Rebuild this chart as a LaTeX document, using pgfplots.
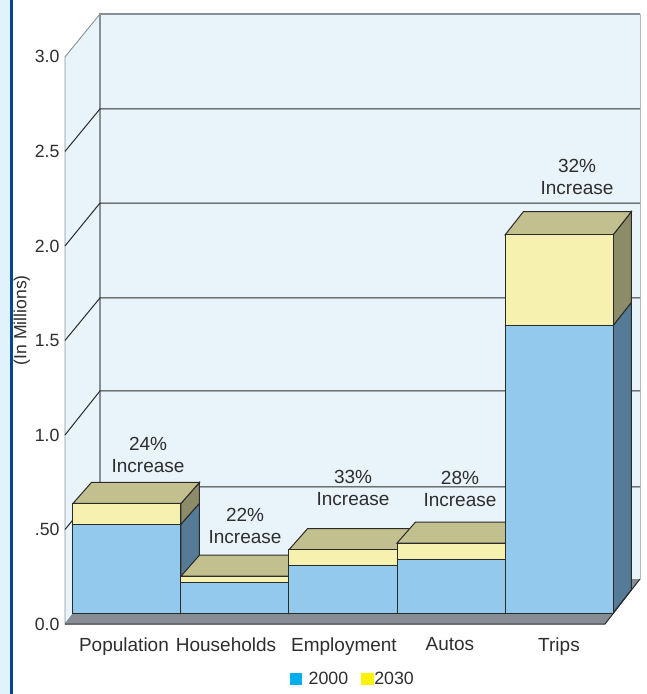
\documentclass[border=0pt]{standalone}
\usepackage{fontspec}
\setmainfont{Liberation Sans}
\usepackage{pgfplots}
\pgfplotsset{compat=1.18}
\definecolor{wall}{HTML}{E8F4FA}
\definecolor{strip}{HTML}{E0F2FB}
\definecolor{wallline}{HTML}{8A8F95}
\definecolor{gridline}{HTML}{2A2A2A}
\definecolor{floorc}{HTML}{868D94}
\definecolor{blue00}{HTML}{92C9EC}
\definecolor{blueside}{HTML}{557B97}
\definecolor{yell30}{HTML}{F6F1AE}
\definecolor{yellside}{HTML}{8C8C68}
\definecolor{topc}{HTML}{C2C08F}
\definecolor{txt}{HTML}{2E2E2E}
\begin{document}
\begin{tikzpicture}[x=1pt,y=1pt]
  \path (0,0) rectangle (647,694);
  % left strip
  \fill[fill=strip] (0,0) rectangle (10,694);
  \fill[fill={rgb,255:red,0;green,75;blue,135}] (10,0) rectangle (12.7,694);
  \begin{axis}[
    at={(65pt,70pt)}, anchor=south west,
    scale only axis, width=575pt, height=610pt,
    xmin=-0.574, xmax=4.75, ymin=-0.058, ymax=3.169,
    clip=false,
    axis line style={draw=none},
    tick style={draw=none},
    xtick={-0.028,0.917,2.009,2.99,4},
    xticklabels={Population,Households,Employment,Autos,Trips},
    ytick={-0.058,0.442,0.942,1.442,1.942,2.442,2.942},
    yticklabels={0.0,.50,1.0,1.5,2.0,2.5,3.0},
    tick label style={text=txt},
    xticklabel style={font=\fontsize{19}{22}\selectfont, yshift=-10pt},
    yticklabel style={font=\fontsize{17.7}{20}\selectfont, xshift=-2pt},
    ylabel={(In Millions)},
    every axis y label/.style={at={(rel axis cs:-0.075,0.498)}, rotate=90, anchor=center,
      font=\fontsize{17.6}{20}\selectfont, text=txt},
    legend style={at={(0.5005,-0.09)}, anchor=center, draw=none, fill=none,
      font=\fontsize{17.8}{20}\selectfont, text=txt, legend columns=2,
      /tikz/every even column/.append style={column sep=11pt}},
    legend image code/.code={\fill[#1,draw=none] (0pt,-6.2pt) rectangle (12.5pt,6.2pt);},
  ]
  \addlegendimage{fill={rgb,255:red,0;green,174;blue,239}}
  \addlegendentry{\hspace{4.5pt}2000}
  \addlegendimage{fill={rgb,255:red,255;green,242;blue,0}}
  \addlegendentry{\hspace{-1.5pt}2030}

  % walls
  \addplot[forget plot, fill=wall, draw=wallline, line width=0.9pt] coordinates {(-0.574,-0.058) (-0.574,2.942) (-0.25,3.169) (-0.25,0.18)} --cycle;
  \addplot[forget plot, fill=wall, draw=none] coordinates {(-0.25,0.18) (-0.25,3.169) (4.75,3.169) (4.75,0.18)} --cycle;
  \addplot[forget plot, draw=wallline, line width=1.2pt] coordinates {(-0.25,0.18) (-0.25,3.169) (4.75,3.169)};
  \addplot[forget plot, draw=wallline!60, line width=0.9pt] coordinates {(4.75,3.169) (4.75,0.18)};

  % grid on side and back wall
  \addplot[forget plot, draw=gridline, line width=1pt] coordinates {(-0.574,2.442) (-0.25,2.667) (4.75,2.667)};
  \addplot[forget plot, draw=gridline, line width=1pt] coordinates {(-0.574,1.942) (-0.25,2.169) (4.75,2.169)};
  \addplot[forget plot, draw=gridline, line width=1pt] coordinates {(-0.574,1.442) (-0.25,1.667) (4.75,1.667)};
  \addplot[forget plot, draw=gridline, line width=1pt] coordinates {(-0.574,0.942) (-0.25,1.175) (4.75,1.175)};
  \addplot[forget plot, draw=gridline, line width=1pt] coordinates {(-0.574,0.442) (-0.25,0.667) (4.75,0.667)};

  % floor
  \addplot[forget plot, fill=floorc, draw=none] coordinates {(-0.574,-0.058) (4.426,-0.058) (4.75,0.18) (-0.25,0.18)} --cycle;
  \addplot[forget plot, draw=gridline, line width=1pt] coordinates {(-0.574,-0.058) (4.426,-0.058) (4.75,0.18)};

  % Population sides and top
  \addplot[forget plot, fill=blueside, draw=gridline, line width=1pt] coordinates {(0.5,0) (0.5,0.47) (0.671,0.581) (0.671,0.111)} --cycle;
  \addplot[forget plot, fill=yellside, draw=gridline, line width=1pt] coordinates {(0.5,0.47) (0.5,0.58) (0.671,0.691) (0.671,0.581)} --cycle;
  \addplot[forget plot, fill=topc, draw=gridline, line width=1pt] coordinates {(-0.5,0.58) (0.5,0.58) (0.671,0.691) (-0.329,0.691)} --cycle;
  % Households
  \addplot[forget plot, fill=blueside, draw=gridline, line width=1pt] coordinates {(1.5,0) (1.5,0.16) (1.671,0.271) (1.671,0.111)} --cycle;
  \addplot[forget plot, fill=yellside, draw=gridline, line width=1pt] coordinates {(1.5,0.16) (1.5,0.195) (1.671,0.306) (1.671,0.271)} --cycle;
  \addplot[forget plot, fill=topc, draw=gridline, line width=1pt] coordinates {(0.5,0.195) (1.5,0.195) (1.671,0.306) (0.671,0.306)} --cycle;
  % Employment
  \addplot[forget plot, fill=blueside, draw=gridline, line width=1pt] coordinates {(2.5,0) (2.5,0.25) (2.671,0.361) (2.671,0.111)} --cycle;
  \addplot[forget plot, fill=yellside, draw=gridline, line width=1pt] coordinates {(2.5,0.25) (2.5,0.335) (2.671,0.446) (2.671,0.361)} --cycle;
  \addplot[forget plot, fill=topc, draw=gridline, line width=1pt] coordinates {(1.5,0.335) (2.5,0.335) (2.671,0.446) (1.671,0.446)} --cycle;
  % Autos
  \addplot[forget plot, fill=blueside, draw=gridline, line width=1pt] coordinates {(3.5,0) (3.5,0.285) (3.671,0.396) (3.671,0.111)} --cycle;
  \addplot[forget plot, fill=yellside, draw=gridline, line width=1pt] coordinates {(3.5,0.285) (3.5,0.37) (3.671,0.481) (3.671,0.396)} --cycle;
  \addplot[forget plot, fill=topc, draw=gridline, line width=1pt] coordinates {(2.5,0.37) (3.5,0.37) (3.671,0.481) (2.671,0.481)} --cycle;
  % Trips
  \addplot[forget plot, fill=blueside, draw=gridline, line width=1pt] coordinates {(4.5,0) (4.5,1.52) (4.671,1.644) (4.671,0.124)} --cycle;
  \addplot[forget plot, fill=yellside, draw=gridline, line width=1pt] coordinates {(4.5,1.52) (4.5,2.0) (4.671,2.124) (4.671,1.644)} --cycle;
  \addplot[forget plot, fill=topc, draw=gridline, line width=1pt] coordinates {(3.5,2.0) (4.5,2.0) (4.671,2.124) (3.671,2.124)} --cycle;

  % front faces: 2030 totals, 2000 over them
  \addplot[forget plot, ybar, bar width=1, bar shift=0pt, fill=yell30, draw=gridline, line width=1pt] coordinates {(0,0.58) (1,0.195) (2,0.335) (3,0.37) (4,2.0)};
  \addplot[forget plot, ybar, bar width=1, bar shift=0pt, fill=blue00, draw=gridline, line width=1pt] coordinates {(0,0.47) (1,0.16) (2,0.25) (3,0.285) (4,1.52)};

  % increase labels
  \tikzset{inc/.style={align=center, text=txt, font=\fontsize{19}{22}\selectfont}}
  \node[inc] at (axis cs:0.195,0.838) {24\%\\Increase};
  \node[inc] at (axis cs:1.093,0.46) {22\%\\Increase};
  \node[inc] at (axis cs:2.093,0.66) {33\%\\Increase};
  \node[inc] at (axis cs:3.083,0.655) {28\%\\Increase};
  \node[inc] at (axis cs:4.167,2.306) {32\%\\Increase};
  \end{axis}
\end{tikzpicture}
\end{document}
